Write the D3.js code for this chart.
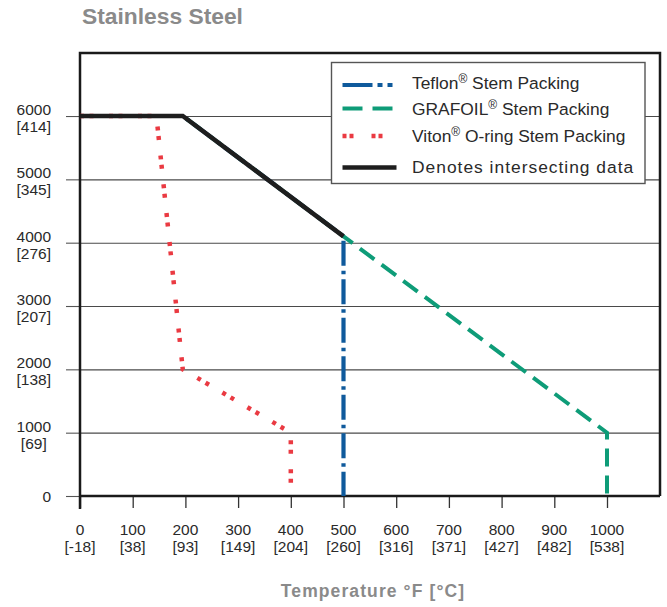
<!DOCTYPE html>
<html><head><meta charset="utf-8">
<script src="https://cdn.jsdelivr.net/npm/d3@7"></script>
<style>
html,body{margin:0;padding:0;background:#fff;}
svg{display:block;font-family:"Liberation Sans",Arial,Helvetica,sans-serif;}
</style></head>
<body>
<svg id="chart" width="667" height="607"></svg>
<script>
// ---- data ----
const xTicks = [0,100,200,300,400,500,600,700,800,900,1000];
const xTickC = ["[-18]","[38]","[93]","[149]","[204]","[260]","[316]","[371]","[427]","[482]","[538]"];
const yTicks = [0,1000,2000,3000,4000,5000,6000];
const yTickM = ["","[69]","[138]","[207]","[276]","[345]","[414]"];

const teflon  = [[0,6000],[195,6000],[500,4100],[500,0]];
const grafoil = [[0,6000],[195,6000],[500,4100],[1000,1000],[1000,0]];
const viton   = [[0,6000],[145,6000],[195,2000],[400,1000],[400,0]];
const common  = [[0,6000],[195,6000],[500,4100]];

// ---- layout ----
const svg = d3.select("#chart");
const L = 80, R = 660, T = 53, B = 496;
const x = d3.scaleLinear().domain([0,1100]).range([L, L + 1100*0.527]);
const y = d3.scaleLinear().domain([0,7000]).range([B, B - 7000*0.06333]);

// title
svg.append("text").attr("x",82).attr("y",24)
  .attr("font-size","22.8px").attr("font-weight","bold").attr("fill","#8a8a8a")
  .text("Stainless Steel");

// gridlines + left ticks
const gy = svg.append("g").attr("transform",`translate(${L},0)`)
  .call(d3.axisLeft(y).tickValues(yTicks).tickSizeInner(-(R-L)).tickSizeOuter(0).tickFormat(""));
gy.select(".domain").remove();
gy.selectAll(".tick line").attr("stroke","#4a4a4a").attr("stroke-width",1.1);
gy.selectAll(".tick").append("line").attr("x1",-14).attr("x2",0).attr("stroke","#555").attr("stroke-width",1.1);

// y labels
yTicks.forEach((v,i)=>{
  const t = svg.append("text").attr("x",51).attr("font-size","15.5px").attr("fill","#2a2a2a")
    .attr("text-anchor","end");
  if (v === 0) { t.attr("y", y(v)+5.5).text("0"); return; }
  t.attr("y", y(v)-1).text(String(v));
  const w = t.node().getComputedTextLength();
  svg.append("text").attr("x",51 - w/2).attr("y",y(v)+16).attr("font-size","15.5px")
    .attr("fill","#2a2a2a").attr("text-anchor","middle").text(yTickM[i]);
});

// x axis ticks
const gx = svg.append("g").attr("transform",`translate(0,${B})`)
  .call(d3.axisBottom(x).tickValues(xTicks).tickSizeInner(12).tickSizeOuter(0).tickFormat(""));
gx.select(".domain").remove();
gx.selectAll(".tick line").attr("stroke","#333").attr("stroke-width",1.3);
xTicks.forEach((v,i)=>{
  svg.append("text").attr("x",x(v)).attr("y",535).attr("font-size","15.5px").attr("fill","#2a2a2a")
    .attr("text-anchor","middle").text(String(v));
  svg.append("text").attr("x",x(v)).attr("y",552).attr("font-size","15.5px").attr("fill","#2a2a2a")
    .attr("text-anchor","middle").text(xTickC[i]);
});

// x label
svg.append("text").attr("x",373).attr("y",597).attr("text-anchor","middle")
  .attr("font-size","17.5px").attr("font-weight","bold").attr("fill","#8a8a8a")
  .attr("letter-spacing","1.1px")
  .text("Temperature °F [°C]");

// frame
svg.append("path").attr("d",`M${L},${B+13}V${T}H${R}V${B}`).attr("fill","none")
  .attr("stroke","#1a1a1a").attr("stroke-width",2.5);
svg.append("line").attr("x1",L).attr("x2",R).attr("y1",B).attr("y2",B)
  .attr("stroke","#1a1a1a").attr("stroke-width",2.5);

// series
const line = d3.line().x(d=>x(d[0])).y(d=>y(d[1]));
const blue = "#0f5a9c", green = "#0e9c78", red = "#ea3a42", black = "#1e1e1e";
svg.append("path").datum(teflon).attr("d",line).attr("fill","none")
  .attr("stroke",blue).attr("stroke-width",4.2).attr("stroke-dasharray","25,5,3.5,5");
svg.append("path").datum(grafoil).attr("d",line).attr("fill","none")
  .attr("stroke",green).attr("stroke-width",4).attr("stroke-dasharray","18,9");
svg.append("path").datum(viton).attr("d",line).attr("fill","none")
  .attr("stroke",red).attr("stroke-width",4.5).attr("stroke-dasharray","4,5.5,4,15.5");
svg.append("path").datum(common).attr("d",line).attr("fill","none")
  .attr("stroke",black).attr("stroke-width",4.5).attr("stroke-linejoin","miter");

// legend
const lg = svg.append("g");
lg.append("rect").attr("x",331.5).attr("y",62.5).attr("width",313.5).attr("height",121)
  .attr("fill","#fff").attr("stroke","#555").attr("stroke-width",1.4);
const leg = [
  {y:85, ty:88.5, c:blue, w:4.2, dash:"30,5,5,5,5,100", label:"Teflon", sup:true, rest:" Stem Packing", ls:0},
  {y:108.5, ty:115, c:green, w:4, dash:"20,10", label:"GRAFOIL", sup:true, rest:" Stem Packing", ls:0},
  {y:136, ty:141.5, c:red, w:4.5, dash:"4,3,4,18", label:"Viton", sup:true, rest:" O-ring Stem Packing", ls:0},
  {y:167.5, ty:173, c:black, w:4.5, dash:null, label:"Denotes intersecting data", sup:false, rest:"", ls:1.0}
];
leg.forEach(d=>{
  const l = lg.append("line").attr("x1",342.5).attr("x2",396.5).attr("y1",d.y).attr("y2",d.y)
    .attr("stroke",d.c).attr("stroke-width",d.w);
  if (d.dash) l.attr("stroke-dasharray",d.dash);
  const t = lg.append("text").attr("x",412).attr("y",d.ty).attr("font-size","17.4px").attr("fill","#2a2a2a")
    .attr("letter-spacing",d.ls+"px");
  t.append("tspan").text(d.label);
  if (d.sup) {
    t.append("tspan").attr("font-size","12px").attr("dy",-6).text("®");
    t.append("tspan").attr("dy",6).text(d.rest);
  }
});
</script>
</body></html>
